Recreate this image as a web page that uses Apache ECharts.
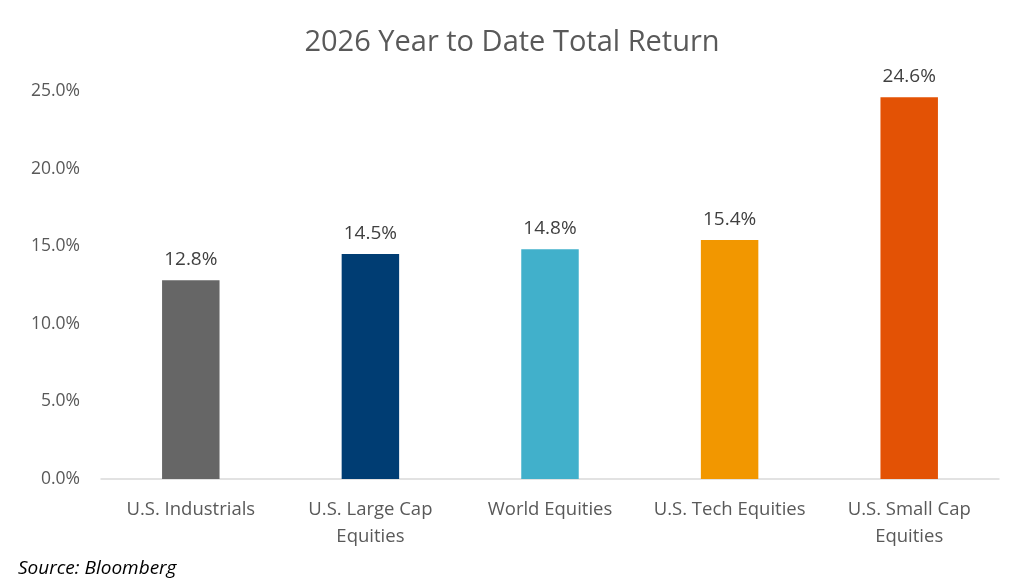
<!DOCTYPE html>
<html>
<head>
<meta charset="utf-8">
<script src="https://cdn.jsdelivr.net/npm/echarts@6/dist/echarts.min.js"></script>
<style>
  html, body { margin: 0; padding: 0; background: #fff; }
  #main { width: 1024px; height: 581px; }
</style>
</head>
<body>
<div id="main"></div>
<script>
var categories = ['U.S. Industrials', 'U.S. Large Cap\nEquities', 'World Equities', 'U.S. Tech Equities', 'U.S. Small Cap\nEquities'];
var returns = [12.8, 14.5, 14.8, 15.4, 24.6];
var barColors = ['#666666', '#003d73', '#41b0cb', '#f29700', '#e35205'];
var yTicks = [0, 5, 10, 15, 20, 25];

var textColor = '#595959';
var fontName = 'Open Sans';

var myChart = echarts.init(document.getElementById('main'));
var option = {
  animation: false,
  title: {
    text: '2026 Year to Date Total Return',
    left: 'center',
    top: 23,
    textStyle: { color: textColor, fontSize: 29, fontWeight: 'normal', fontFamily: fontName }
  },
  graphic: [{
    type: 'text',
    left: 18,
    top: 559,
    style: { text: 'Source: Bloomberg', fill: '#000', font: 'italic 19px "Open Sans"' }
  }],
  grid: {
    left: 101,
    right: 25,
    top: 91,
    bottom: 102
  },
  xAxis: {
    type: 'category',
    data: categories,
    axisTick: { show: false },
    axisLine: { lineStyle: { color: '#d9d9d9', width: 1.5 } },
    axisLabel: {
      color: textColor,
      fontSize: 18.5,
      fontFamily: fontName,
      lineHeight: 27,
      margin: 17,
      interval: 0
    }
  },
  yAxis: {
    type: 'value',
    min: yTicks[0],
    max: yTicks[yTicks.length - 1],
    interval: 5,
    splitLine: { show: false },
    axisLine: { show: false },
    axisTick: { show: false },
    axisLabel: {
      color: textColor,
      fontSize: 17.5,
      fontFamily: fontName,
      margin: 21,
      formatter: function (v) { return v.toFixed(1) + '%'; }
    }
  },
  series: [{
    type: 'bar',
    barWidth: '32%',
    data: returns.map(function (v, i) {
      return { value: v, itemStyle: { color: barColors[i] } };
    }),
    label: {
      show: true,
      position: 'top',
      distance: 11,
      color: '#404040',
      fontSize: 19,
      fontFamily: fontName,
      formatter: function (p) { return p.value.toFixed(1) + '%'; }
    }
  }]
};
myChart.setOption(option);
</script>
</body>
</html>
